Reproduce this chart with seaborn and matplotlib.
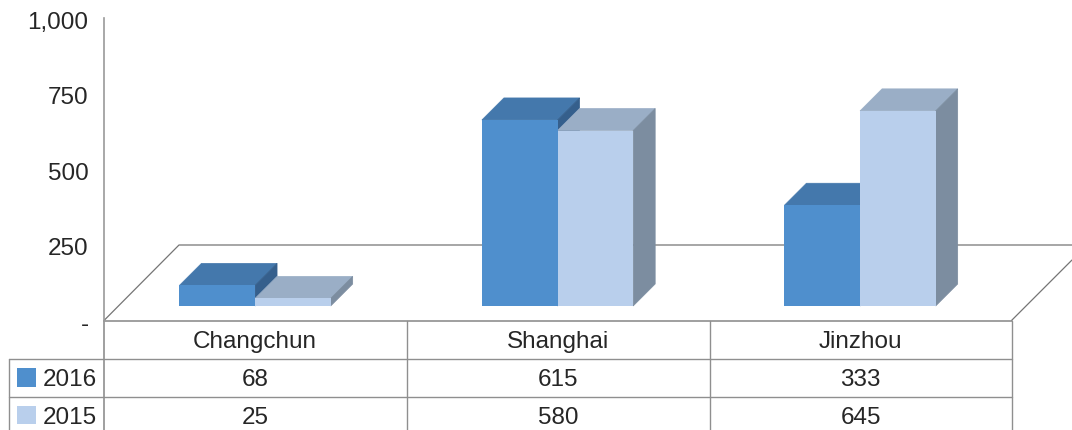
import matplotlib
matplotlib.use("Agg")
import matplotlib.pyplot as plt
from matplotlib.patches import Polygon, Rectangle
from matplotlib.transforms import ScaledTranslation
import pandas as pd
import seaborn as sns

cities = ["Changchun", "Shanghai", "Jinzhou"]
values_2016 = [68, 615, 333]
values_2015 = [25, 580, 645]
years = ["2016", "2015"]
y_ticks = [0, 250, 500, 750, 1000]
y_tick_labels = ["-", "250", "500", "750", "1,000"]

sns.set_theme(style="white")
plt.rcParams["font.family"] = ["Liberation Sans", "DejaVu Sans"]

TEXT = "#262626"
GRID = "#8f8f8f"
FONT = 17.5
front = {"2016": "#4f8fcd", "2015": "#b9cfec"}
top = {"2016": "#4478ac", "2015": "#9aaec6"}
side = {"2016": "#355f8c", "2015": "#7c8da0"}

df = pd.DataFrame({
    "city": cities * 2,
    "year": ["2016"] * 3 + ["2015"] * 3,
    "value": values_2016 + values_2015,
})

W, H = 1072, 430
fig = plt.figure(figsize=(W / 100, H / 100), dpi=100)

# pixel-space layer for the floor and the data table
ov = fig.add_axes([0, 0, 1, 1], zorder=1)
ov.set_xlim(0, W)
ov.set_ylim(H, 0)
ov.axis("off")

ax = fig.add_axes([103.8 / W, 1 - 320.5 / H, 907.5 / W, 302.5 / H], zorder=2)
ax.patch.set_alpha(0)

# the bars stand on the floor, a little above the zero line
base = 48
sns.barplot(data=df, x="city", y="value", hue="year", order=cities, hue_order=years,
            palette=front, width=0.5, gap=0, saturation=1, legend=False, ax=ax,
            bottom=base, linewidth=0, zorder=5)
ax.set_xlim(-0.5, 2.5)
ax.set_ylim(0, 1000)
ax.set_xlabel("")
ax.set_ylabel("")
ax.set_xticks([])
ax.set_yticks(y_ticks, y_tick_labels)
ax.tick_params(axis="y", length=0, pad=11, labelsize=FONT, labelcolor=TEXT)
nudge = ScaledTranslation(0, -1.5 / 72, fig.dpi_scale_trans)
for label in ax.get_yticklabels():
    label.set_transform(label.get_transform() + nudge)
for name in ["top", "right", "bottom"]:
    ax.spines[name].set_visible(False)
ax.spines["left"].set_color("#9a9a9a")
ax.spines["left"].set_linewidth(1.2)

# fake 3D: top and side faces derived from each bar
dx = 22 / (907.5 / 3)
dy = 22 / (302.5 / 1000)
for order, (year, container) in enumerate(zip(years, ax.containers)):
    for bar in container:
        x0, x1 = bar.get_x(), bar.get_x() + bar.get_width()
        y0, y1 = bar.get_y(), bar.get_y() + bar.get_height()
        ax.add_patch(Polygon([(x0, y1), (x1, y1), (x1 + dx, y1 + dy), (x0 + dx, y1 + dy)],
                             facecolor=top[year], edgecolor=top[year], lw=0.5, zorder=2 + order))
        ax.add_patch(Polygon([(x1, y0), (x1, y1), (x1 + dx, y1 + dy), (x1 + dx, y0 + dy)],
                             facecolor=side[year], edgecolor=side[year], lw=0.5, zorder=2 + order))

# floor
ov.plot([104, 179, 1072], [320.5, 245, 245], color="#757575", lw=0.9)
ov.plot([1011.5, 1072], [320.5, 260], color="#757575", lw=0.9)

# table lines
col_x = [104, 406.5, 709.5, 1011.5]
ov.plot([104, 1011.5], [320.5, 320.5], color=GRID, lw=1.2)
ov.plot([9.3, 1011.5], [358.5, 358.5], color=GRID, lw=1)
ov.plot([9.3, 1011.5], [396.5, 396.5], color=GRID, lw=1)
ov.plot([9.3, 9.3], [358.5, H], color=GRID, lw=1)
for x in col_x:
    ov.plot([x, x], [320.5, H], color=GRID, lw=1.2 if x == 104 else 1)

# table text
centers = [(a + b) / 2 for a, b in zip(col_x[:-1], col_x[1:])]
rows = [(347.7, cities), (386, values_2016), (423.5, values_2015)]
for y, row in rows:
    for x, val in zip(centers, row):
        ov.text(x, y, str(val), ha="center", va="baseline", fontsize=FONT, color=TEXT)
for y, year in zip([386, 423.5], years):
    ov.add_patch(Rectangle((17, y - 18), 18.7, 18.7, facecolor=front[year], edgecolor="none"))
    ov.text(43, y, year, ha="left", va="baseline", fontsize=FONT, color=TEXT)

fig.savefig("out.png", dpi=100)
